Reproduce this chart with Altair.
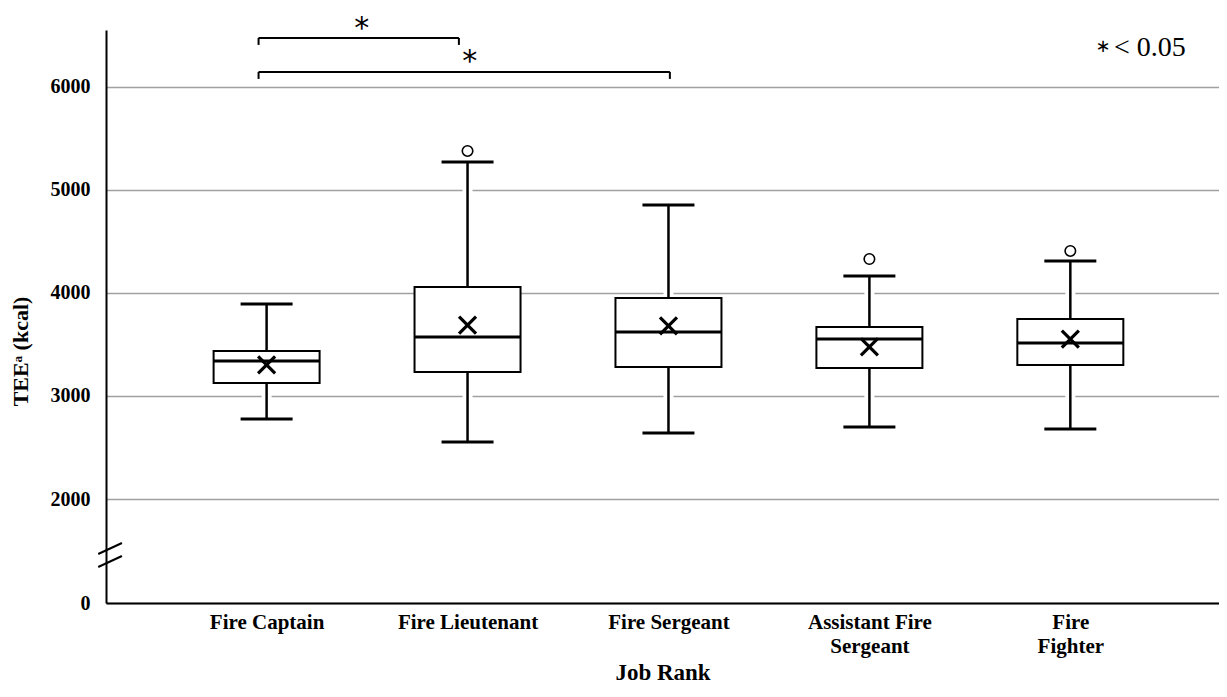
import json
import altair as alt
import pandas as pd

# ---- data ----
ranks = ["Fire Captain", "Fire Lieutenant", "Fire Sergeant",
         "Assistant Fire\nSergeant", "Fire\nFighter"]
lower = [2777, 2553, 2641, 2699, 2680]
q1 = [3126, 3233, 3282, 3272, 3301]
median = [3340, 3573, 3621, 3553, 3515]
q3 = [3437, 4058, 3951, 3670, 3748]
upper = [3893, 5272, 4854, 4165, 4311]
mean = [3301, 3689, 3680, 3476, 3553]

outlier_rank = [1, 3, 4]
outlier_value = [5379, 4330, 4408]

# significance brackets (x positions in rank-index units, y in kcal)
br_x1 = [-0.04, -0.04]
br_x2 = [0.957, 2.007]
br_y = [6476, 6146]
br_tip = [6408, 6078]
star_x = [0.473, 1.011]
star_y = [6476, 6155]

y_ticks = [0, 2000, 3000, 4000, 5000, 6000]

FONT = "Liberation Serif"

box = pd.DataFrame({"idx": list(range(len(ranks))), "lower": lower, "q1": q1,
                    "median": median, "q3": q3, "upper": upper, "mean": mean})
outl = pd.DataFrame({"idx": outlier_rank, "v": outlier_value})
brk = pd.DataFrame({"x1": br_x1, "x2": br_x2, "y": br_y, "tip": br_tip})
stars = pd.DataFrame({"x": star_x, "y": star_y, "t": ["*", "*"]})
note_star = pd.DataFrame({"x": [4.163], "y": [6390], "t": ["\u2217"]})
note = pd.DataFrame({"x": [4.217], "y": [6379], "t": ["< 0.05"]})
breaks = pd.DataFrame({"x1": [-0.838, -0.838], "x2": [-0.720, -0.720],
                       "y1": [942, 692], "y2": [1154, 904]})

label_lines = [r.split("\n") if "\n" in r else r for r in ranks]
label_expr = json.dumps(label_lines) + "[datum.value]"

W, H = 1113, 573
xscale = alt.Scale(domain=[-0.7744, 4.715], nice=False, zero=False)
yscale = alt.Scale(domain=[0, 2000, 6553], range=[H, H - 104, 0], nice=False, zero=False)

xaxis = alt.Axis(values=list(range(len(ranks))), labelExpr=label_expr, title="Job Rank",
                 grid=False, ticks=False, domainColor="black", domainWidth=2,
                 labelFont=FONT, labelFontSize=21, labelFontWeight="bold", labelColor="black",
                 labelLineHeight=24, labelPadding=8, labelBaseline="top",
                 titleFont=FONT, titleFontSize=23, titleFontWeight="bold", titleColor="black",
                 titleY=76, titleBaseline="alphabetic", zindex=1)
yaxis = alt.Axis(values=y_ticks, format="d", title="TEE\u1d43 (kcal)", grid=True,
                 gridColor="#a0a0a0", gridWidth=1.5, ticks=False, domainColor="black",
                 domainWidth=2,
                 labelFont=FONT, labelFontSize=20, labelFontWeight="bold", labelColor="black",
                 labelPadding=16,
                 titleFont=FONT, titleFontSize=22, titleFontWeight="bold", titleColor="black",
                 titleAngle=270, titleX=-86, titleY=321, titleAlign="center",
                 titleBaseline="middle")

base = alt.Chart(box)
X = alt.X("idx:Q", scale=xscale, axis=xaxis)

wh_white_lo = base.mark_rule(color="white", strokeWidth=10).encode(
    x=X, y=alt.Y("lower:Q", scale=yscale, axis=yaxis), y2="q1:Q")
wh_white_hi = base.mark_rule(color="white", strokeWidth=10).encode(
    x="idx:Q", y=alt.Y("q3:Q", scale=yscale), y2="upper:Q")
wh_lo = base.mark_rule(color="black", strokeWidth=2.5).encode(
    x="idx:Q", y=alt.Y("lower:Q", scale=yscale), y2="q1:Q")
wh_hi = base.mark_rule(color="black", strokeWidth=2.5).encode(
    x="idx:Q", y=alt.Y("q3:Q", scale=yscale), y2="upper:Q")
boxes = base.mark_bar(size=106, fill="white", stroke="black", strokeWidth=2).encode(
    x="idx:Q", y=alt.Y("q1:Q", scale=yscale), y2="q3:Q")
med = base.mark_tick(orient="horizontal", size=106, thickness=3, color="black", opacity=1).encode(
    x="idx:Q", y=alt.Y("median:Q", scale=yscale))
cap_lo = base.mark_tick(orient="horizontal", size=52, thickness=3, color="black", opacity=1).encode(
    x="idx:Q", y=alt.Y("lower:Q", scale=yscale))
cap_hi = base.mark_tick(orient="horizontal", size=52, thickness=3, color="black", opacity=1).encode(
    x="idx:Q", y=alt.Y("upper:Q", scale=yscale))
means = base.mark_point(shape="M-1,-1L1,1M-1,1L1,-1", size=289, strokeWidth=3.2,
                        color="black", filled=False, opacity=1).encode(
    x="idx:Q", y=alt.Y("mean:Q", scale=yscale))
outs = alt.Chart(outl).mark_point(shape="circle", size=110, strokeWidth=1.6, stroke="black",
                                  fill="white", filled=True, opacity=1).encode(
    x="idx:Q", y=alt.Y("v:Q", scale=yscale))

br_h = alt.Chart(brk).mark_rule(color="black", strokeWidth=2).encode(
    x="x1:Q", x2="x2:Q", y=alt.Y("y:Q", scale=yscale))
br_l = alt.Chart(brk).mark_rule(color="black", strokeWidth=2).encode(
    x="x1:Q", y=alt.Y("y:Q", scale=yscale), y2="tip:Q")
br_r = alt.Chart(brk).mark_rule(color="black", strokeWidth=2).encode(
    x="x2:Q", y=alt.Y("y:Q", scale=yscale), y2="tip:Q")
star_t = alt.Chart(stars).mark_text(font="DejaVu Sans", fontSize=30, color="black",
                                    baseline="alphabetic", align="center").encode(
    x="x:Q", y=alt.Y("y:Q", scale=yscale), text="t:N")
note_s = alt.Chart(note_star).mark_text(font="DejaVu Sans", fontSize=18, color="black",
                                        baseline="middle", align="center").encode(
    x="x:Q", y=alt.Y("y:Q", scale=yscale), text="t:N")
note_t = alt.Chart(note).mark_text(font=FONT, fontSize=28, color="black",
                                   baseline="middle", align="left").encode(
    x="x:Q", y=alt.Y("y:Q", scale=yscale), text="t:N")
brk_marks = alt.Chart(breaks).mark_rule(color="black", strokeWidth=2).encode(
    x="x1:Q", x2="x2:Q", y=alt.Y("y1:Q", scale=yscale), y2="y2:Q")

chart = alt.layer(
    wh_white_lo, wh_white_hi, wh_lo, wh_hi, boxes, med, cap_lo, cap_hi, means, outs,
    br_h, br_l, br_r, star_t, note_s, note_t, brk_marks
).properties(
    width=W, height=H,
    autosize=alt.AutoSizeParams(type="none"),
    padding={"left": 98, "top": 22, "right": 0, "bottom": 84},
    background="white",
).configure_view(stroke=None)

chart.save("out.html", embed_options={"renderer": "svg", "actions": False})
